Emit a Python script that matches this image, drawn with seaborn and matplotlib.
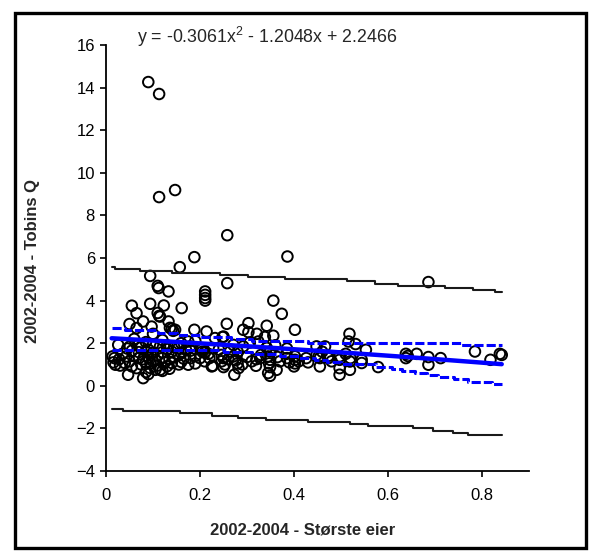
import matplotlib
matplotlib.use("Agg")
import matplotlib.pyplot as plt
from matplotlib.patches import Rectangle
import numpy as np
import pandas as pd
import seaborn as sns

# Observations: largest owner share (x) vs. Tobin's Q (y), 2002-2004
owner_share = [
    0.090, 0.113, 0.113, 0.147, 0.258, 0.188, 0.386, 0.157, 0.094, 0.110,
    0.112, 0.133, 0.258, 0.211, 0.211, 0.211, 0.211, 0.356, 0.055, 0.094,
    0.123, 0.161, 0.065, 0.110, 0.113, 0.374, 0.115, 0.133, 0.079, 0.050,
    0.257, 0.303, 0.342, 0.402, 0.188, 0.292, 0.303, 0.321, 0.065, 0.097,
    0.136, 0.140, 0.147, 0.143, 0.214, 0.100, 0.686, 0.518, 0.356,
    0.232, 0.250, 0.248, 0.338, 0.306, 0.324, 0.516, 0.531, 0.271, 0.292,
    0.448, 0.466, 0.026, 0.051, 0.069, 0.175, 0.179, 0.154, 0.203, 0.228,
    0.342, 0.085, 0.120, 0.100, 0.130, 0.160, 0.075, 0.115, 0.145, 0.190,
    0.060, 0.045,
    0.070, 0.085, 0.100, 0.120, 0.140, 0.160, 0.180, 0.205, 0.210, 0.055,
    0.035, 0.090, 0.130, 0.170,
    0.014, 0.018, 0.043, 0.070, 0.079, 0.090, 0.105, 0.120, 0.135, 0.145,
    0.165, 0.180, 0.200, 0.220, 0.060, 0.110, 0.155, 0.028, 0.190, 0.095,
    0.016, 0.020, 0.040, 0.050, 0.055, 0.065, 0.075, 0.085, 0.095, 0.110,
    0.125, 0.140, 0.155, 0.175, 0.210, 0.225, 0.030, 0.100, 0.130, 0.160,
    0.190,
    0.047, 0.079, 0.094, 0.105, 0.115, 0.120, 0.085, 0.135, 0.090,
    0.204, 0.211, 0.218, 0.264, 0.349, 0.384, 0.402, 0.402, 0.402, 0.400,
    0.426, 0.246, 0.250, 0.246, 0.253, 0.250, 0.271, 0.276, 0.280, 0.282,
    0.280, 0.227, 0.273, 0.319, 0.328, 0.345, 0.349, 0.347, 0.349, 0.345,
    0.349, 0.363, 0.330, 0.300, 0.310, 0.290, 0.365, 0.370, 0.385, 0.390,
    0.410, 0.320, 0.260, 0.240, 0.360, 0.385,
    0.448, 0.452, 0.455, 0.473, 0.473, 0.497, 0.497, 0.497, 0.497, 0.519,
    0.519, 0.544, 0.544, 0.455, 0.553, 0.460, 0.480, 0.510, 0.430, 0.520,
    0.579, 0.638, 0.638, 0.642, 0.661, 0.686, 0.686, 0.712, 0.785, 0.818,
    0.838, 0.842,
]
tobins_q = [
    14.26, 13.70, 8.86, 9.19, 7.07, 6.04, 6.07, 5.57, 5.16, 4.69,
    4.59, 4.43, 4.82, 4.43, 4.27, 4.12, 4.00, 4.00, 3.76, 3.85,
    3.77, 3.65, 3.41, 3.42, 3.28, 3.38, 3.25, 3.02, 3.02, 2.90,
    2.91, 2.94, 2.82, 2.63, 2.63, 2.63, 2.52, 2.44, 2.71, 2.78,
    2.72, 2.68, 2.63, 2.58, 2.55, 2.44, 4.87, 2.44, 2.35,
    2.24, 2.31, 2.29, 2.29, 2.03, 2.08, 2.08, 1.96, 1.92, 1.85,
    1.85, 1.85, 1.92, 1.85, 1.92, 2.08, 1.85, 1.77, 1.77, 1.77,
    1.78, 2.05, 2.15, 1.95, 1.90, 2.00, 1.80, 1.85, 1.82, 2.10,
    2.20, 1.75,
    1.58, 1.62, 1.55, 1.58, 1.60, 1.55, 1.65, 1.60, 1.55, 1.65,
    1.50, 1.70, 1.72, 1.70,
    1.38, 1.30, 1.38, 1.30, 1.25, 1.32, 1.22, 1.30, 1.25, 1.35,
    1.28, 1.30, 1.30, 1.30, 1.42, 1.42, 1.45, 1.25, 1.40, 1.45,
    1.10, 0.99, 1.07, 1.15, 0.91, 0.83, 1.00, 1.10, 1.05, 0.95,
    1.10, 1.07, 1.00, 0.99, 1.15, 0.91, 0.95, 1.15, 0.92, 1.12,
    1.05,
    0.52, 0.36, 0.84, 0.75, 0.75, 0.70, 0.65, 0.80, 0.55,
    1.72, 1.60, 1.50, 1.61, 1.61, 1.50, 1.38, 1.22, 1.05, 0.91,
    1.30, 1.45, 1.30, 1.15, 1.00, 0.88, 1.38, 1.20, 1.05, 0.83,
    1.60, 0.94, 0.52, 0.94, 1.30, 1.38, 1.22, 1.05, 0.88, 0.60,
    0.47, 0.75, 1.45, 1.35, 1.15, 1.00, 1.35, 1.15, 1.30, 1.10,
    1.15, 1.25, 1.25, 1.70, 1.90, 1.75,
    1.45, 1.36, 1.30, 1.40, 1.30, 1.38, 1.22, 0.83, 0.52, 1.14,
    0.75, 1.22, 1.07, 0.91, 1.69, 1.60, 1.15, 1.50, 1.10, 1.30,
    0.88, 1.50, 1.30, 1.40, 1.50, 1.35, 0.99, 1.30, 1.61, 1.22,
    1.50, 1.45,
]

# Quadratic trend line coefficients (a*x^2 + b*x + c)
coef_a, coef_b, coef_c = -0.3061, -1.2048, 2.2466
trend_range = [0.012, 0.842]

# Confidence band for the mean (step start, value)
ci_upper_x = [0.012, 0.040, 0.110, 0.150, 0.200, 0.265, 0.310, 0.430, 0.755, 0.842]
ci_upper_y = [2.7, 2.6, 2.5, 2.4, 2.3, 2.2, 2.1, 2.0, 1.9, 1.9]
ci_lower_x = [0.012, 0.250, 0.310, 0.370, 0.410, 0.445, 0.470, 0.500, 0.575,
              0.608, 0.629, 0.658, 0.682, 0.707, 0.740, 0.770, 0.821, 0.842]
ci_lower_y = [1.7, 1.6, 1.5, 1.4, 1.3, 1.2, 1.1, 1.0, 0.9,
              0.8, 0.7, 0.6, 0.5, 0.4, 0.3, 0.2, 0.1, 0.1]

# Prediction band (step start, value)
pi_upper_x = [0.012, 0.020, 0.072, 0.140, 0.243, 0.303, 0.380, 0.512, 0.572,
              0.622, 0.721, 0.781, 0.828, 0.842]
pi_upper_y = [5.6, 5.5, 5.4, 5.3, 5.2, 5.1, 5.0, 4.9, 4.8,
              4.7, 4.6, 4.5, 4.4, 4.4]
pi_lower_x = [0.012, 0.037, 0.157, 0.225, 0.280, 0.340, 0.430, 0.519, 0.558,
              0.654, 0.696, 0.739, 0.771, 0.842]
pi_lower_y = [-1.1, -1.2, -1.3, -1.4, -1.5, -1.6, -1.7, -1.8, -1.9,
              -2.0, -2.1, -2.2, -2.3, -2.3]

x_ticks = [0, 0.2, 0.4, 0.6, 0.8]
x_tick_labels = ["0", "0.2", "0.4", "0.6", "0.8"]
y_ticks = list(range(-4, 17, 2))

sns.set_theme(style="white")
plt.rcParams["font.family"] = ["Liberation Sans", "DejaVu Sans"]
plt.rcParams["mathtext.fontset"] = "custom"
plt.rcParams["mathtext.rm"] = "Liberation Sans"
plt.rcParams["mathtext.it"] = "Liberation Sans"

W, H = 596, 554
fig = plt.figure(figsize=(W / 100, H / 100), dpi=100)
ax = fig.add_axes([106 / W, 1 - 471 / H, (529 - 106) / W, (471 - 45) / H])

points = pd.DataFrame({"owner": owner_share, "q": tobins_q})
sns.scatterplot(data=points, x="owner", y="q", ax=ax, marker="o",
                s=58, facecolor="none", edgecolor="black", linewidth=1.4,
                zorder=2, legend=False)

def step_line(xs, ys, **kw):
    df = pd.DataFrame({"x": xs, "y": ys})
    sns.lineplot(data=df, x="x", y="y", ax=ax, estimator=None, sort=False,
                 drawstyle="steps-post", legend=False, **kw)

step_line(pi_upper_x, pi_upper_y, color="#1a1a1a", linewidth=1.5, zorder=3)
step_line(pi_lower_x, pi_lower_y, color="#1a1a1a", linewidth=1.5, zorder=3)
step_line(ci_upper_x, ci_upper_y, color="#0000ff", linewidth=2.2,
          dashes=(3, 1), zorder=4)
step_line(ci_lower_x, ci_lower_y, color="#0000ff", linewidth=2.2,
          dashes=(3, 1), zorder=4)

trend_x = np.linspace(trend_range[0], trend_range[1], 100)
trend = pd.DataFrame({"x": trend_x,
                      "y": coef_a * trend_x ** 2 + coef_b * trend_x + coef_c})
sns.lineplot(data=trend, x="x", y="y", ax=ax, color="#0000ff",
             linewidth=3.2, zorder=5, legend=False)

ax.set_xlim(0, 0.9)
ax.set_ylim(-4, 16)
ax.set_xticks(x_ticks)
ax.set_xticklabels(x_tick_labels)
ax.set_yticks(y_ticks)
ax.set_xlabel("")
ax.set_ylabel("")
for side in ("top", "right"):
    ax.spines[side].set_visible(False)
for side in ("left", "bottom"):
    ax.spines[side].set_color("black")
    ax.spines[side].set_linewidth(1.3)
ax.tick_params(axis="both", direction="out", length=4, width=1.2,
               colors="black", labelsize=12, pad=4,
               left=True, bottom=True)
ax.tick_params(axis="x", pad=8)

fig.text(303 / W, 1 - 530 / H, "2002-2004 - Største eier", ha="center",
         va="center", fontsize=12, fontweight="bold")
fig.text(33 / W, 1 - 261 / H, "2002-2004 - Tobins Q", ha="center",
         va="center", rotation=90, fontsize=12, fontweight="bold")
fig.text(267 / W, 1 - 37 / H, r"y = -0.3061x$^{2}$ - 1.2048x + 2.2466",
         ha="center", va="center", fontsize=12.8)

fig.patches.append(Rectangle((14.5 / W, 1 - 548 / H), (586 - 14.5) / W,
                             (548 - 12.5) / H, transform=fig.transFigure,
                             fill=False, edgecolor="black", linewidth=2.4))

fig.savefig("out.png", dpi=100)
